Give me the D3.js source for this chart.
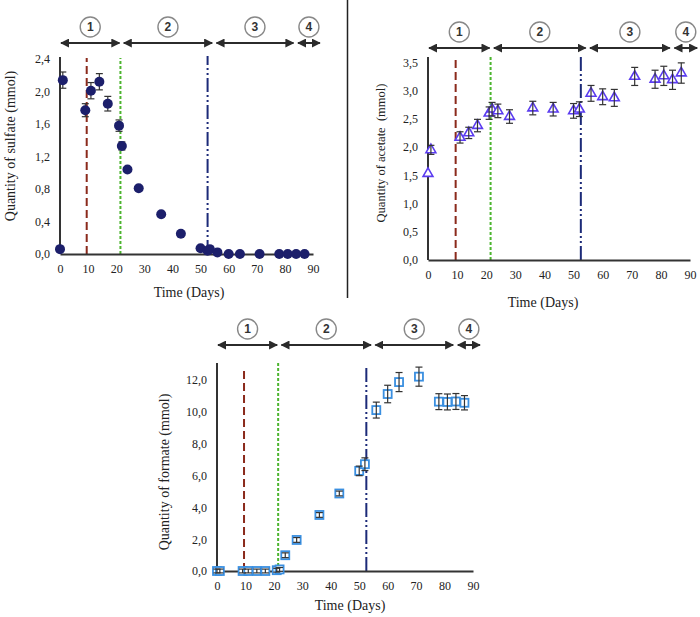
<!DOCTYPE html>
<html>
<head>
<meta charset="utf-8">
<script src="https://cdn.jsdelivr.net/npm/d3@7"></script>
<style>
  body { margin: 0; background: #fff; }
  svg { display: block; }
</style>
</head>
<body>
<svg id="chart" width="700" height="617"></svg>
<script>
// ---------------- DATA ----------------
const xTicks = [0, 10, 20, 30, 40, 50, 60, 70, 80, 90];

const sulfateDays   = [0, 1, 9, 11, 14, 17, 21, 22, 24, 28, 36, 43, 50, 52.5, 53.3, 56, 60, 64, 71, 78, 81, 84, 87];
const sulfateValues = [0.06, 2.14, 1.77, 2.01, 2.12, 1.85, 1.58, 1.33, 1.04, 0.81, 0.49, 0.25, 0.07, 0.04, 0.06, 0.02, 0.0, 0.0, 0.0, 0.0, 0.0, 0.0, 0.0];
const sulfateErrors = [0, 0.10, 0.08, 0.10, 0.10, 0.09, 0.07, 0.05, 0.03, 0, 0, 0, 0, 0, 0, 0, 0, 0, 0, 0, 0, 0, 0];
const sulfateTicks  = [0, 0.4, 0.8, 1.2, 1.6, 2.0, 2.4];

const acetateDays   = [0, 1, 11, 14, 17, 21, 22, 24, 28, 36, 43, 50, 52, 56, 60, 64, 71, 78, 81, 84, 87];
const acetateValues = [1.53, 1.95, 2.17, 2.25, 2.38, 2.60, 2.67, 2.64, 2.54, 2.69, 2.67, 2.64, 2.67, 2.95, 2.89, 2.87, 3.25, 3.20, 3.26, 3.19, 3.31];
const acetateErrors = [0, 0.08, 0.10, 0.10, 0.11, 0.11, 0.12, 0.12, 0.12, 0.12, 0.12, 0.13, 0.13, 0.14, 0.14, 0.15, 0.16, 0.16, 0.17, 0.17, 0.18];
const acetateTicks  = [0, 0.5, 1.0, 1.5, 2.0, 2.5, 3.0, 3.5];

const formateDays   = [0, 1, 9, 11, 14, 17, 21, 22, 24, 28, 36, 43, 50, 52, 56, 60, 64, 71, 78, 81, 84, 87];
const formateValues = [0, 0, 0, 0, 0, 0, 0.05, 0.1, 0.99, 1.95, 3.52, 4.87, 6.29, 6.71, 10.11, 11.12, 11.87, 12.21, 10.64, 10.62, 10.65, 10.57];
const formateErrors = [0.12, 0.12, 0.12, 0.12, 0.12, 0.12, 0.12, 0.12, 0.15, 0.15, 0.15, 0.15, 0.3, 0.4, 0.5, 0.55, 0.6, 0.6, 0.5, 0.5, 0.5, 0.45];
const formateTicks  = [0, 2, 4, 6, 8, 10, 12];

const phaseLabels = ["1", "2", "3", "4"];
const phaseStarts = [0, 22.3, 55.3, 84.3];
const phaseEnds   = [21.5, 54.5, 83.4, 92.8];

const transitionDays   = [9.5, 21.5, 52.5];
const transitionColors = ["#8b2a1c", "#4cb52e", "#1c2a78"];
const transitionDashes = ["8,4", "3,2", "14,3,2,3,2,3"];

// ---------------- DRAW ----------------
const svg = d3.select("#chart");
const fmt = v => d3.format(".1f")(v).replace(".", ",");

const defs = svg.append("defs");
defs.append("marker")
  .attr("id", "arrowhead")
  .attr("viewBox", "0 0 10 10")
  .attr("refX", 9).attr("refY", 5)
  .attr("markerWidth", 4.5).attr("markerHeight", 4.5)
  .attr("markerUnits", "strokeWidth")
  .attr("orient", "auto-start-reverse")
  .append("path").attr("d", "M0,0L10,5L0,10Z").attr("fill", "#2b2b2b");

// divider
svg.append("line").attr("x1", 347.5).attr("x2", 347.5).attr("y1", 0).attr("y2", 298)
  .attr("stroke", "#222").attr("stroke-width", 1.5);

function drawChart(c) {
  const x = d3.scaleLinear().domain([0, 90]).range([c.x0, c.x90]);
  const y = d3.scaleLinear().domain([0, c.yMax]).range([c.yBottom, c.yTop]);
  const g = svg.append("g");

  // phase arrows + circled labels
  phaseLabels.forEach((lab, i) => {
    g.append("line")
      .attr("x1", x(phaseStarts[i]) + 1).attr("x2", x(phaseEnds[i]) - 1)
      .attr("y1", c.arrowY).attr("y2", c.arrowY)
      .attr("stroke", "#2b2b2b").attr("stroke-width", 2)
      .attr("marker-start", "url(#arrowhead)").attr("marker-end", "url(#arrowhead)");
    const cx = x((phaseStarts[i] + phaseEnds[i]) / 2);
    g.append("circle").attr("cx", cx).attr("cy", c.arrowY - 16).attr("r", 10)
      .attr("fill", "#fff").attr("stroke", "#888").attr("stroke-width", 1.4);
    g.append("text").attr("x", cx).attr("y", c.arrowY - 16)
      .attr("text-anchor", "middle").attr("dominant-baseline", "central")
      .attr("font-family", "Liberation Sans, Arial, sans-serif").attr("font-weight", "bold")
      .attr("font-size", 12).attr("fill", "#333").text(lab);
  });

  // transition lines
  transitionDays.forEach((d, i) => {
    g.append("line").attr("x1", x(d)).attr("x2", x(d))
      .attr("y1", c.yBottom).attr("y2", c.lineTop[i])
      .attr("stroke", transitionColors[i]).attr("stroke-width", 2)
      .attr("stroke-dasharray", transitionDashes[i]);
  });

  // axes
  const yAxis = d3.axisLeft(y).tickValues(c.yTicks).tickSize(0).tickPadding(10).tickFormat(fmt);
  const ya = g.append("g").attr("transform", `translate(${c.x0},0)`).call(yAxis);
  ya.select(".domain").attr("stroke", "#333").attr("stroke-width", 2)
    .attr("d", `M0,${c.yBottom}V${c.axisTop}`);
  const xAxis = d3.axisBottom(x).tickValues(xTicks).tickSize(0).tickPadding(10).tickFormat(d3.format("d"));
  const xa = g.append("g").attr("transform", `translate(0,${c.yBottom})`).call(xAxis);
  xa.select(".domain").attr("stroke", "#333").attr("stroke-width", 2);
  [ya, xa].forEach(a => a.selectAll("text")
    .attr("font-family", "Liberation Serif, Times New Roman, serif")
    .attr("font-size", 12).attr("fill", "#222"));

  // titles
  g.append("text").attr("x", c.xTitle[0]).attr("y", c.xTitle[1])
    .attr("text-anchor", "middle").attr("dominant-baseline", "central")
    .attr("font-family", "Liberation Serif, Times New Roman, serif").attr("font-size", 14)
    .attr("fill", "#222").text("Time (Days)");
  g.append("text")
    .attr("transform", `translate(${c.yTitle[0]},${c.yTitle[1]}) rotate(-90)`)
    .attr("text-anchor", "middle").attr("dominant-baseline", "central")
    .attr("font-family", "Liberation Serif, Times New Roman, serif").attr("font-size", c.yTitleSize)
    .attr("fill", "#222").style("white-space", "pre").text(c.yLabel);

  const pts = c.days.map((d, i) => ({ d, v: c.values[i], e: c.errors[i] }));

  function errorBars() {
    const eb = g.append("g").attr("stroke", "#333").attr("stroke-width", 1.2);
    pts.filter(p => p.e > 0).forEach(p => {
      const px = x(p.d);
      eb.append("line").attr("x1", px).attr("x2", px).attr("y1", y(p.v - p.e)).attr("y2", y(p.v + p.e));
      [p.v - p.e, p.v + p.e].forEach(v => eb.append("line")
        .attr("x1", px - 3.5).attr("x2", px + 3.5).attr("y1", y(v)).attr("y2", y(v)));
    });
  }

  if (c.marker === "circle") {
    errorBars();
    g.append("g").selectAll("circle").data(pts).join("circle")
      .attr("cx", p => x(p.d)).attr("cy", p => y(p.v)).attr("r", 5)
      .attr("fill", "#1c1f6b");
  } else if (c.marker === "triangle") {
    const sym = d3.symbol().type(d3.symbolTriangle).size(42);
    g.append("g").selectAll("path").data(pts).join("path")
      .attr("transform", p => `translate(${x(p.d)},${y(p.v)})`)
      .attr("d", sym).attr("fill", "#fff").attr("stroke", "#5b3cf0").attr("stroke-width", 1.6);
    errorBars();
  } else {
    g.append("g").selectAll("rect").data(pts).join("rect")
      .attr("x", p => x(p.d) - 4).attr("y", p => y(p.v) - 4)
      .attr("width", 8).attr("height", 8)
      .attr("fill", "#fff").attr("stroke", "#3a8fe0").attr("stroke-width", 1.8);
    errorBars();
  }
}

drawChart({
  x0: 60, x90: 313, yBottom: 254, yTop: 59, yMax: 2.4, axisTop: 57,
  yTicks: sulfateTicks, arrowY: 43, lineTop: [58, 58, 56],
  xTitle: [189, 292], yTitle: [10, 146], yTitleSize: 14,
  yLabel: "Quantity of sulfate (mmol)",
  days: sulfateDays, values: sulfateValues, errors: sulfateErrors, marker: "circle"
});

drawChart({
  x0: 428, x90: 690, yBottom: 260, yTop: 62.3, yMax: 3.5, axisTop: 57,
  yTicks: acetateTicks, arrowY: 48, lineTop: [57, 57, 57],
  xTitle: [543, 302], yTitle: [381, 153], yTitleSize: 12.5,
  yLabel: "Quantity of acetate  (mmol)",
  days: acetateDays, values: acetateValues, errors: acetateErrors, marker: "triangle"
});

drawChart({
  x0: 217, x90: 473, yBottom: 571, yTop: 380, yMax: 12, axisTop: 363,
  yTicks: formateTicks, arrowY: 345, lineTop: [368, 363, 368],
  xTitle: [350, 605], yTitle: [164, 472], yTitleSize: 14,
  yLabel: "Quantity of formate (mmol)",
  days: formateDays, values: formateValues, errors: formateErrors, marker: "square"
});
</script>
</body>
</html>
